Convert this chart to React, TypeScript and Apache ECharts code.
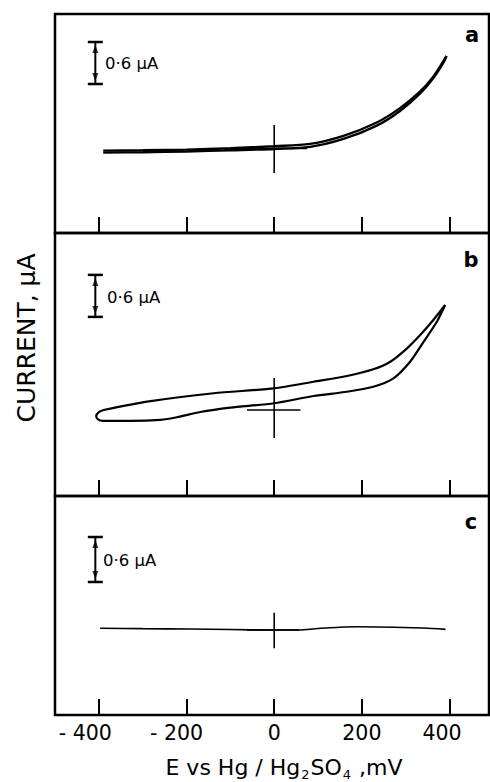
import React, { useEffect, useRef } from "react";
import * as echarts from "echarts";

// ---- data (E in mV, current in µA relative to each panel's cross) ----
const X_TICKS = [-400, -200, 0, 200, 400];
const X_MIN = -500;
const X_MAX = 490;

// panel a: two almost overlapping branches
const A_OUT: number[][] = [
  [-390, -0.08], [-300, -0.074], [-200, -0.064], [-100, -0.047], [0, -0.028],
  [82, 0.002], [158, 0.115], [234, 0.305], [287, 0.515], [333, 0.765], [363, 0.985], [386, 1.205], [393, 1.3],
];
const A_BACK: number[][] = [
  [393, 1.3], [386, 1.225], [363, 1.005], [333, 0.795], [287, 0.555], [234, 0.35], [158, 0.16],
  [82, 0.045], [0, 0.012], [-100, -0.018], [-200, -0.037], [-300, -0.047], [-390, -0.052],
];
// panel b: closed loop
const B_LOOP: number[][] = [
  [-389, 0.0], [-400, -0.03], [-406, -0.086], [-402, -0.135], [-390, -0.155], [-328, -0.155],
  [-260, -0.14], [-222, -0.104], [-169, -0.029], [-100, 0.033], [0, 0.096], [90, 0.2], [166, 0.261],
  [226, 0.333], [272, 0.453], [310, 0.69], [341, 0.976], [371, 1.261], [390, 1.5],
  [363, 1.286], [333, 1.071], [303, 0.881], [265, 0.69], [226, 0.581], [166, 0.486], [90, 0.404],
  [0, 0.31], [-138, 0.239], [-290, 0.119], [-389, 0.0],
];
// panel c: flat trace
const C_TRACE: number[][] = [
  [-397, 0.023], [-300, 0.018], [-192, 0.013], [-100, 0.006], [0, 0.0], [57, 0.0],
  [100, 0.02], [189, 0.044], [340, 0.027], [391, 0.009],
];

// crosshairs [vertical from, to] and horizontal [from, to, level]
const A_CROSS_V = [0.314, -0.371];
const A_CROSS_H = [-75, 75, -0.02];
const B_CROSS_V = [0.457, -0.4];
const B_CROSS_H = [-62, 60, 0];
const C_CROSS_V = [0.231, -0.244];
const C_CROSS_H = [-62, 57, 0];

// 0.6 µA scale bars: [x, lower, upper]
const SCALE_A = [-408, 0.9, 1.5];
const SCALE_B = [-408, 1.33, 1.93];
const SCALE_C = [-408, 0.64, 1.24];

// y ranges per panel (µA)
const Y_A = [-1.2286, 1.9];
const Y_B = [-1.2286, 2.5286];
const Y_C = [-1.1333, 1.7867];

const PANEL_LABELS = ["a", "b", "c"];
const SCALE_TEXT = "0·6 μA";
const X_TITLE = "E vs Hg / Hg2SO4 ,mV";
const Y_TITLE = "CURRENT, μA";

const FONT = "DejaVu Sans";

function lineSeries(data: number[][], idx: number, width: number, smooth: number | boolean = false) {
  return {
    type: "line",
    xAxisIndex: idx,
    yAxisIndex: idx,
    data,
    symbol: "none",
    showSymbol: false,
    smooth,
    silent: true,
    lineStyle: { color: "#000", width },
    z: 3,
  };
}

function crossSeries(v: number[], h: number[], idx: number) {
  return [
    lineSeries([[0, v[0]], [0, v[1]]], idx, 1.6),
    lineSeries([[h[0], h[2]], [h[1], h[2]]], idx, 1.6),
  ];
}

function scaleSeries(s: number[], idx: number) {
  return [
    {
      type: "line",
      xAxisIndex: idx,
      yAxisIndex: idx,
      data: [[s[0], s[1]], [s[0], s[2]]],
      symbol: "rect",
      symbolSize: [15, 2.5],
      showSymbol: true,
      silent: true,
      itemStyle: { color: "#000" },
      lineStyle: { color: "#000", width: 2 },
      z: 4,
    },
    {
      type: "scatter",
      xAxisIndex: idx,
      yAxisIndex: idx,
      silent: true,
      itemStyle: { color: "#000" },
      data: [
        { value: [s[0], s[2]], symbol: "triangle", symbolSize: [6, 8], symbolOffset: [0, 7], symbolRotate: 0 },
        { value: [s[0], s[1]], symbol: "triangle", symbolSize: [6, 8], symbolOffset: [0, -7], symbolRotate: 180 },
      ],
      z: 4,
    },
  ];
}

const GRIDS = [
  { left: 55, top: 14, width: 434, height: 219 },
  { left: 55, top: 233, width: 434, height: 263 },
  { left: 55, top: 496, width: 434, height: 219 },
];

function labelFmt(v: number) {
  if (v === -400) return "{p4|- 400}";
  if (v === -200) return "{p2|- 200}";
  if (v === 400) return "{q4|400}";
  return "{p0|" + v + "}";
}

export default function App() {
  const ref = useRef<HTMLDivElement>(null);
  useEffect(() => {
    if (!ref.current) return;
    const chart = echarts.init(ref.current, null, { renderer: "svg" });
    const yRanges = [Y_A, Y_B, Y_C];
    const labelStyle = { fontFamily: FONT, fontSize: 20.5, color: "#000" };
    const option: any = {
      animation: false,
      backgroundColor: "#fff",
      grid: GRIDS.map((g) => ({ ...g, show: true, borderColor: "#000", borderWidth: 2.5, backgroundColor: "transparent" })),
      xAxis: GRIDS.map((_, i) => ({
        type: "value",
        gridIndex: i,
        min: X_MIN,
        max: X_MAX,
        position: "bottom",
        axisLine: { show: false, onZero: false },
        splitLine: { show: false },
        axisTick: {
          show: true,
          inside: true,
          length: 16,
          customValues: X_TICKS,
          lineStyle: { color: "#000", width: 2 },
        },
        axisLabel: {
          show: i === 2,
          customValues: X_TICKS,
          margin: 7,
          formatter: labelFmt,
          rich: {
            p0: { ...labelStyle },
            p4: { ...labelStyle, padding: [0, 27, 0, 0] },
            p2: { ...labelStyle, padding: [0, 20, 0, 0] },
            q4: { ...labelStyle, padding: [0, 15, 0, 0] },
          },
        },
      })),
      yAxis: GRIDS.map((_, i) => ({
        type: "value",
        gridIndex: i,
        min: yRanges[i][0],
        max: yRanges[i][1],
        show: false,
        splitLine: { show: false },
      })),
      series: [
        lineSeries(A_OUT, 0, 2.4, 0.3),
        lineSeries(A_BACK, 0, 2.4, 0.3),
        ...crossSeries(A_CROSS_V, A_CROSS_H, 0),
        ...scaleSeries(SCALE_A, 0),
        lineSeries(B_LOOP, 1, 2.2, 0.25),
        ...crossSeries(B_CROSS_V, B_CROSS_H, 1),
        ...scaleSeries(SCALE_B, 1),
        lineSeries(C_TRACE, 2, 1.6, 0.3),
        ...crossSeries(C_CROSS_V, C_CROSS_H, 2),
        ...scaleSeries(SCALE_C, 2),
      ],
      graphic: [
        ...[
          { x: 105, y: 63 },
          { x: 107, y: 297 },
          { x: 103, y: 560 },
        ].map((p) => ({
          type: "text",
          x: p.x,
          y: p.y,
          silent: true,
          style: {
            text: SCALE_TEXT,
            fontFamily: FONT,
            fontSize: 16.5,
            fill: "#000",
            align: "left",
            verticalAlign: "middle",
            textAlign: "left",
            textVerticalAlign: "middle",
          },
        })),
        ...[
          { x: 472, y: 35 },
          { x: 471, y: 260 },
          { x: 471, y: 522 },
        ].map((p, i) => ({
          type: "text",
          x: p.x,
          y: p.y,
          silent: true,
          style: {
            text: PANEL_LABELS[i],
            fontFamily: FONT,
            fontSize: 21,
            fontWeight: "bold",
            fill: "#000",
            align: "center",
            verticalAlign: "middle",
            textAlign: "center",
            textVerticalAlign: "middle",
          },
        })),
        {
          type: "text",
          x: 26,
          y: 338,
          rotation: Math.PI / 2,
          silent: true,
          style: {
            text: Y_TITLE,
            fontFamily: FONT,
            fontSize: 25,
            fill: "#000",
            align: "center",
            verticalAlign: "middle",
            textAlign: "center",
            textVerticalAlign: "middle",
          },
        },
        {
          type: "text",
          x: 284,
          y: 767,
          silent: true,
          style: {
            text: "{m|E vs Hg / Hg}{s|2}{m|SO}{s|4}{m| ,mV}",
            rich: {
              m: { fontFamily: FONT, fontSize: 22, fill: "#000", lineHeight: 28 },
              s: { fontFamily: FONT, fontSize: 13, fill: "#000", padding: [14, 1, 0, 1] },
            },
            align: "center",
            verticalAlign: "middle",
            textAlign: "center",
            textVerticalAlign: "middle",
          },
        },
      ],
    };
    chart.setOption(option);
    return () => chart.dispose();
  }, []);
  return (
    <div
      ref={ref}
      aria-label={X_TITLE}
      style={{ position: "absolute", left: 0, top: 0, width: 490, height: 782, background: "#fff" }}
    />
  );
}
